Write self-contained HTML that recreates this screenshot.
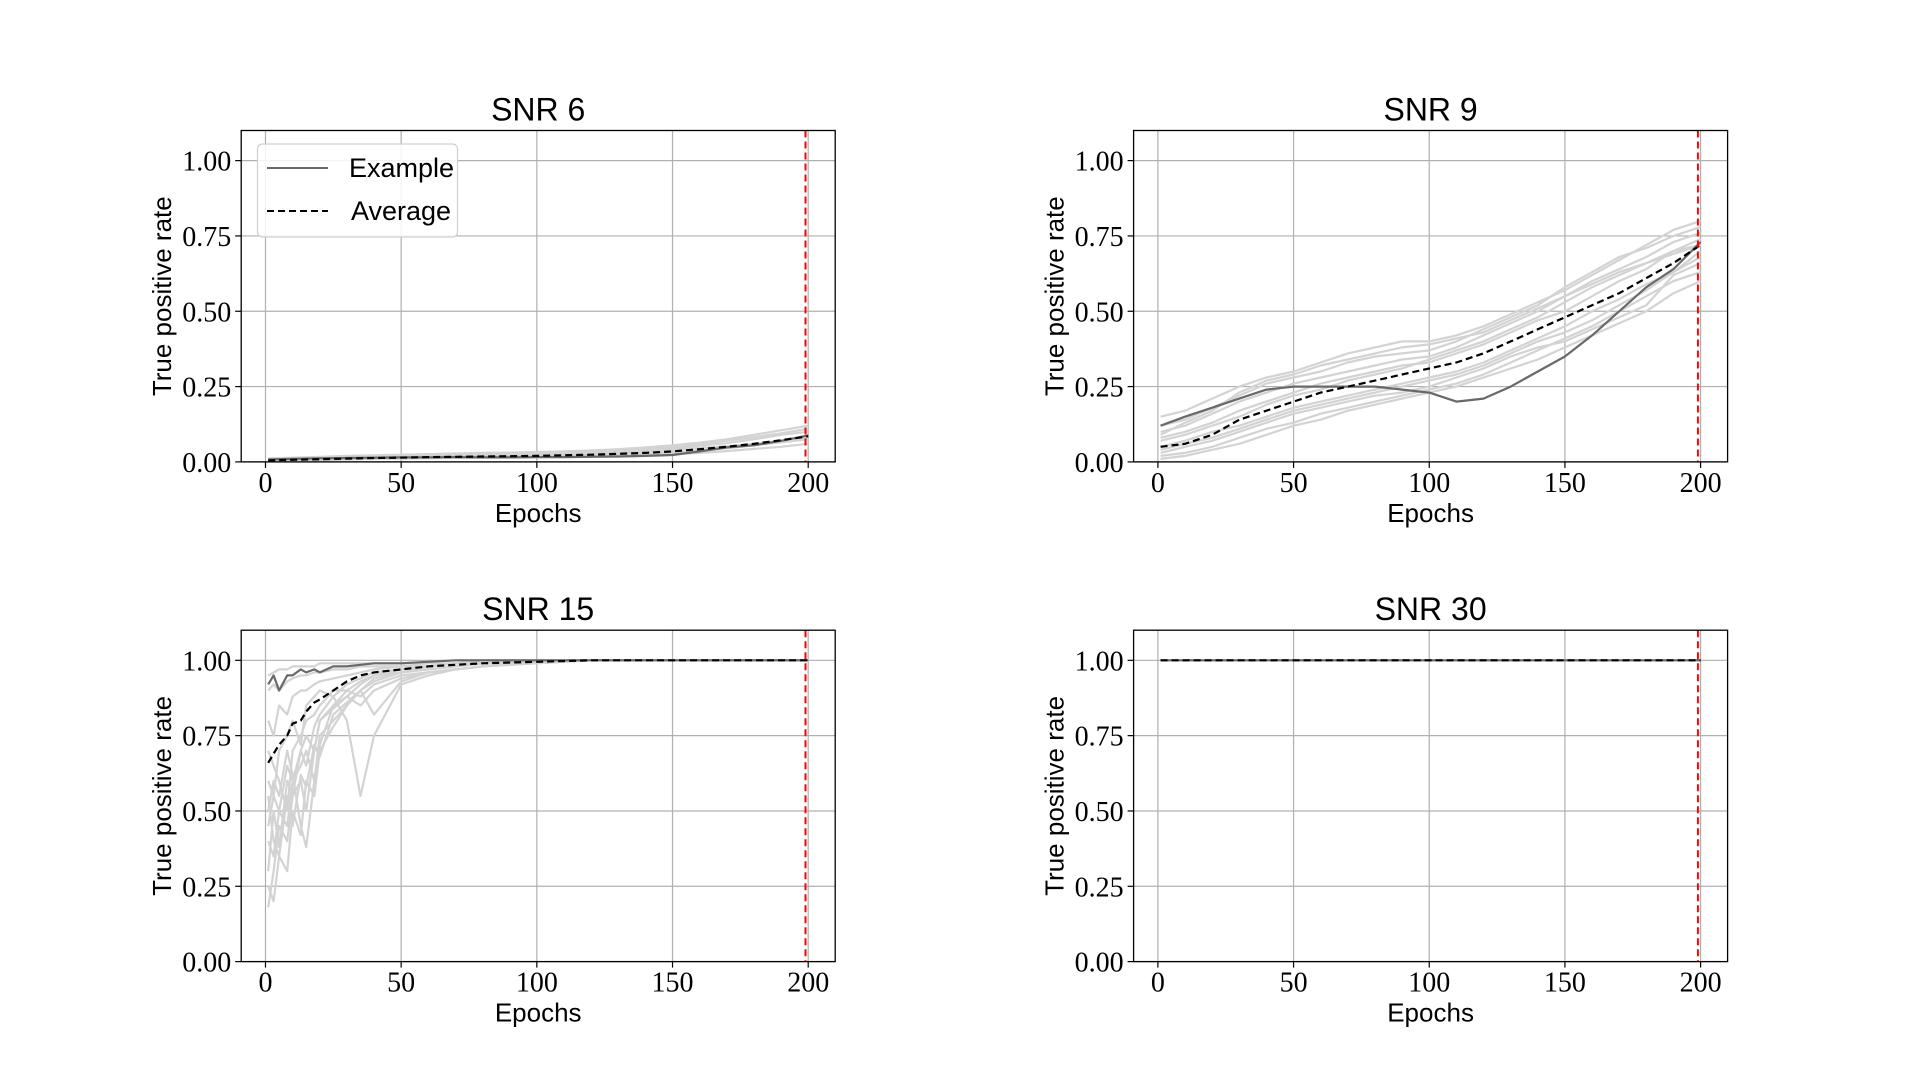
<!DOCTYPE html>
<html><head><meta charset="utf-8"><style>
html,body{margin:0;padding:0;background:#fff;width:1920px;height:1080px;overflow:hidden}
svg text{font-family:"Liberation Sans","DejaVu Sans",sans-serif}
.tick{font-family:"Liberation Serif","DejaVu Serif",serif;font-size:28px}
</style></head><body>
<svg id="fig" width="1920" height="1080" viewBox="0 0 1920 1080" xmlns="http://www.w3.org/2000/svg"></svg>
<script>
// ---- data ----
const xTicks=[0,50,100,150,200];
const yTicks=[0,0.25,0.5,0.75,1.0];
const yTickLabels=["0.00","0.25","0.50","0.75","1.00"];
const titles=["SNR 6","SNR 9","SNR 15","SNR 30"];
const bestEpoch=[199,199,199,199];
const epochs=[1,10,20,30,40,50,60,70,80,90,100,110,120,130,140,150,160,170,180,190,200];
const epochs15=[1,3,5,8,10,13,15,18,20,25,30,35,40,50,60,70,80,100,120,150,200];
// SNR 6
const avg6=[0.005,0.007,0.009,0.011,0.013,0.014,0.016,0.017,0.018,0.019,0.02,0.022,0.024,0.027,0.03,0.035,0.042,0.05,0.06,0.072,0.085];
const ex6=[0.008,0.01,0.012,0.013,0.014,0.015,0.015,0.016,0.015,0.015,0.016,0.016,0.017,0.018,0.02,0.023,0.035,0.048,0.055,0.07,0.088];
const runs6=[
[0.012,0.014,0.017,0.02,0.022,0.024,0.026,0.028,0.03,0.031,0.033,0.035,0.038,0.042,0.048,0.055,0.064,0.075,0.09,0.105,0.12],
[0.002,0.004,0.006,0.008,0.01,0.011,0.012,0.013,0.014,0.015,0.016,0.017,0.018,0.02,0.022,0.026,0.03,0.036,0.043,0.05,0.06],
[0.008,0.01,0.013,0.016,0.018,0.02,0.022,0.023,0.025,0.026,0.028,0.03,0.032,0.036,0.04,0.046,0.054,0.062,0.075,0.09,0.1],
[0.004,0.006,0.008,0.01,0.012,0.013,0.014,0.015,0.016,0.017,0.018,0.02,0.022,0.025,0.028,0.032,0.038,0.045,0.055,0.065,0.075],
[0.01,0.012,0.015,0.018,0.02,0.022,0.024,0.026,0.027,0.029,0.031,0.033,0.036,0.04,0.045,0.05,0.06,0.07,0.082,0.095,0.11],
[0.006,0.008,0.01,0.012,0.014,0.016,0.018,0.02,0.021,0.022,0.024,0.026,0.028,0.031,0.035,0.04,0.046,0.052,0.06,0.07,0.08]];
// SNR 9
const avg9=[0.05,0.06,0.09,0.14,0.17,0.2,0.23,0.25,0.27,0.29,0.31,0.33,0.36,0.40,0.44,0.48,0.52,0.56,0.61,0.66,0.72];
const ex9=[0.12,0.15,0.18,0.21,0.24,0.25,0.25,0.25,0.25,0.24,0.23,0.2,0.21,0.25,0.3,0.35,0.42,0.5,0.58,0.64,0.73];
const runs9=[
[0.15,0.17,0.21,0.25,0.28,0.3,0.33,0.36,0.38,0.40,0.40,0.42,0.45,0.49,0.53,0.57,0.62,0.67,0.72,0.77,0.8],
[0.02,0.03,0.05,0.08,0.11,0.13,0.16,0.18,0.2,0.22,0.24,0.26,0.29,0.33,0.37,0.41,0.45,0.5,0.55,0.6,0.63],
[0.1,0.12,0.16,0.2,0.23,0.26,0.28,0.3,0.32,0.34,0.35,0.38,0.42,0.46,0.5,0.55,0.6,0.64,0.68,0.73,0.76],
[0.05,0.07,0.1,0.12,0.15,0.18,0.2,0.22,0.24,0.26,0.28,0.3,0.33,0.37,0.41,0.45,0.5,0.54,0.59,0.63,0.68],
[0.08,0.1,0.13,0.17,0.2,0.23,0.26,0.28,0.3,0.32,0.33,0.36,0.39,0.43,0.47,0.5,0.55,0.6,0.64,0.7,0.74],
[0.03,0.05,0.07,0.1,0.13,0.16,0.18,0.2,0.22,0.23,0.25,0.28,0.31,0.35,0.38,0.4,0.44,0.48,0.52,0.62,0.66],
[0.12,0.14,0.18,0.22,0.26,0.28,0.3,0.33,0.35,0.36,0.37,0.4,0.44,0.48,0.52,0.58,0.63,0.68,0.71,0.75,0.78],
[0.04,0.06,0.08,0.11,0.14,0.17,0.19,0.21,0.23,0.25,0.27,0.29,0.32,0.36,0.4,0.43,0.47,0.52,0.57,0.63,0.7],
[0.07,0.09,0.12,0.15,0.19,0.22,0.24,0.27,0.29,0.31,0.34,0.37,0.4,0.44,0.48,0.53,0.58,0.62,0.66,0.7,0.72],
[0.01,0.02,0.04,0.06,0.09,0.12,0.14,0.17,0.19,0.21,0.23,0.25,0.28,0.31,0.34,0.38,0.42,0.46,0.5,0.56,0.6],
[0.09,0.13,0.17,0.23,0.27,0.29,0.32,0.34,0.36,0.38,0.39,0.41,0.43,0.47,0.51,0.55,0.59,0.63,0.66,0.69,0.72]];
// SNR 15
const avg15=[0.66,0.69,0.72,0.75,0.79,0.8,0.83,0.86,0.87,0.9,0.93,0.95,0.96,0.97,0.98,0.985,0.99,0.995,1,1,1];
const ex15=[0.92,0.95,0.9,0.95,0.95,0.97,0.96,0.97,0.96,0.98,0.98,0.985,0.99,0.99,0.995,1,1,1,1,1,1];
const runs15=[
[0.18,0.3,0.45,0.4,0.55,0.6,0.5,0.7,0.8,0.85,0.9,0.93,0.95,0.97,0.98,0.99,0.99,1,1,1,1],
[0.3,0.5,0.38,0.6,0.55,0.7,0.65,0.78,0.82,0.88,0.92,0.94,0.96,0.97,0.98,0.99,0.99,1,1,1,1],
[0.5,0.6,0.55,0.7,0.62,0.45,0.38,0.6,0.72,0.85,0.88,0.92,0.95,0.96,0.98,0.99,1,1,1,1,1],
[0.6,0.55,0.7,0.75,0.8,0.72,0.85,0.88,0.9,0.88,0.8,0.55,0.75,0.92,0.95,0.97,0.98,0.995,1,1,1],
[0.8,0.75,0.85,0.82,0.88,0.9,0.9,0.92,0.93,0.94,0.95,0.96,0.97,0.98,0.98,0.99,0.99,1,1,1,1],
[0.95,0.96,0.97,0.97,0.98,0.98,0.98,0.98,0.99,0.99,0.99,0.99,0.99,0.99,0.995,1,1,1,1,1,1],
[0.4,0.35,0.5,0.45,0.6,0.65,0.7,0.6,0.75,0.8,0.85,0.9,0.82,0.93,0.96,0.97,0.98,1,1,1,1],
[0.7,0.65,0.6,0.5,0.7,0.75,0.8,0.82,0.85,0.9,0.9,0.88,0.92,0.95,0.96,0.97,0.98,0.99,1,1,1],
[0.25,0.2,0.35,0.3,0.5,0.42,0.6,0.55,0.7,0.78,0.85,0.9,0.93,0.96,0.97,0.98,0.99,1,1,1,1],
[0.55,0.4,0.35,0.55,0.45,0.62,0.58,0.72,0.68,0.82,0.86,0.9,0.94,0.96,0.97,0.98,0.99,1,1,1,1],
[0.9,0.92,0.9,0.93,0.94,0.95,0.95,0.96,0.96,0.97,0.97,0.98,0.98,0.98,0.99,0.99,1,1,1,1,1],
[0.45,0.55,0.5,0.65,0.6,0.7,0.75,0.7,0.8,0.84,0.88,0.85,0.9,0.94,0.96,0.97,0.98,0.99,1,1,1]];
// SNR 30
const avg30=[1,1,1,1,1,1,1,1,1,1,1,1,1,1,1,1,1,1,1,1,1];
const ex30=[1,1,1,1,1,1,1,1,1,1,1,1,1,1,1,1,1,1,1,1,1];
const runs30=[[1,1,1,1,1,1,1,1,1,1,1,1,1,1,1,1,1,1,1,1,1]];

const NS="http://www.w3.org/2000/svg";
const fig=document.getElementById('fig');
function mk(tag,attrs,parent){const e=document.createElementNS(NS,tag);for(const k in attrs)e.setAttribute(k,attrs[k]);(parent||fig).appendChild(e);return e;}

const W=594,H=331.4,XMIN=-8.95,XMAX=209.95,YMIN=0,YMAX=1.1;
const panels=[
 {x:241.2,y:130.5,ep:epochs,avg:avg6,ex:ex6,runs:runs6},
 {x:1133.6,y:130.5,ep:epochs,avg:avg9,ex:ex9,runs:runs9},
 {x:241.2,y:630.2,ep:epochs15,avg:avg15,ex:ex15,runs:runs15},
 {x:1133.6,y:630.2,ep:epochs,avg:avg30,ex:ex30,runs:runs30}];

panels.forEach((p,i)=>{
  const sx=v=>p.x+(v-XMIN)/(XMAX-XMIN)*W;
  const sy=v=>p.y+H-(v-YMIN)/(YMAX-YMIN)*H;
  const g=mk('g',{});
  
  
  xTicks.forEach(t=>{const l=mk('line',{x1:sx(t),x2:sx(t),y1:p.y,y2:p.y+H,stroke:'#b0b0b0','stroke-width':1.2},g);
    });
  yTicks.forEach(t=>{const l=mk('line',{x1:p.x,x2:p.x+W,y1:sy(t),y2:sy(t),stroke:'#b0b0b0','stroke-width':1.2},g);
    });
  const path=(xs,ys,attrs,name)=>{const d=xs.map((x,k)=>(k?'L':'M')+sx(x).toFixed(1)+' '+sy(ys[k]).toFixed(1)).join(' ');
    const e=mk('path',Object.assign({d:d,fill:'none'},attrs),g);
    return e;};
  p.runs.forEach(r=>path(p.ep,r,{stroke:'#d3d3d3','stroke-width':2.2,'stroke-linejoin':'round'},'run-line'));
  path(p.ep,p.ex,{stroke:'#696969','stroke-width':2.2,'stroke-linejoin':'round'},'example-line');
  path(p.ep,p.avg,{stroke:'#000','stroke-width':2.2,'stroke-dasharray':'7,4'},'average-line');
  const rl=mk('line',{x1:sx(bestEpoch[i]),x2:sx(bestEpoch[i]),y1:p.y,y2:p.y+H,stroke:'#ff0000','stroke-width':2,'stroke-dasharray':'7,4'},g);
  
  const fr=mk('rect',{x:p.x,y:p.y,width:W,height:H,fill:'none',stroke:'#000','stroke-width':1.3},g);
  
  xTicks.forEach(t=>{mk('line',{x1:sx(t),x2:sx(t),y1:p.y+H,y2:p.y+H+6,stroke:'#000','stroke-width':1.2},g);
    const tx=mk('text',{x:sx(t),y:p.y+H+30,'text-anchor':'middle',class:'tick'},g);tx.textContent=t;
    });
  yTicks.forEach((t,k)=>{mk('line',{x1:p.x-6,x2:p.x,y1:sy(t),y2:sy(t),stroke:'#000','stroke-width':1.2},g);
    const tx=mk('text',{x:p.x-10,y:sy(t)+10,'text-anchor':'end',class:'tick'},g);tx.textContent=yTickLabels[k];
    });
  const ti=mk('text',{x:p.x+W/2,y:p.y-10,'text-anchor':'middle','font-size':32},g);ti.textContent=titles[i];
  
  const xl=mk('text',{x:p.x+W/2,y:p.y+H+60,'text-anchor':'middle','font-size':26},g);xl.textContent='Epochs';
  
  const cy=p.y+H/2;
  const yl=mk('text',{x:p.x-70,y:cy,'text-anchor':'middle','font-size':26,transform:'rotate(-90 '+(p.x-70)+' '+cy+')'},g);yl.textContent='True positive rate';
  
  if(i===0){
    const lg=mk('g',{},g);
    
    mk('rect',{x:257.5,y:144,width:200,height:93,rx:5,fill:'#fff','fill-opacity':0.85,stroke:'#d0d0d0','stroke-width':1.2},lg);
    const l1=mk('line',{x1:267,x2:328,y1:168,y2:168,stroke:'#696969','stroke-width':2},lg);
    
    const t1=mk('text',{x:349,y:177,'font-size':27},lg);t1.textContent='Example';
    
    const l2=mk('line',{x1:267,x2:328,y1:211,y2:211,stroke:'#000','stroke-width':2,'stroke-dasharray':'7,4'},lg);
    
    const t2=mk('text',{x:351,y:220,'font-size':27},lg);t2.textContent='Average';
    
  }
});
</script>
</body></html>
